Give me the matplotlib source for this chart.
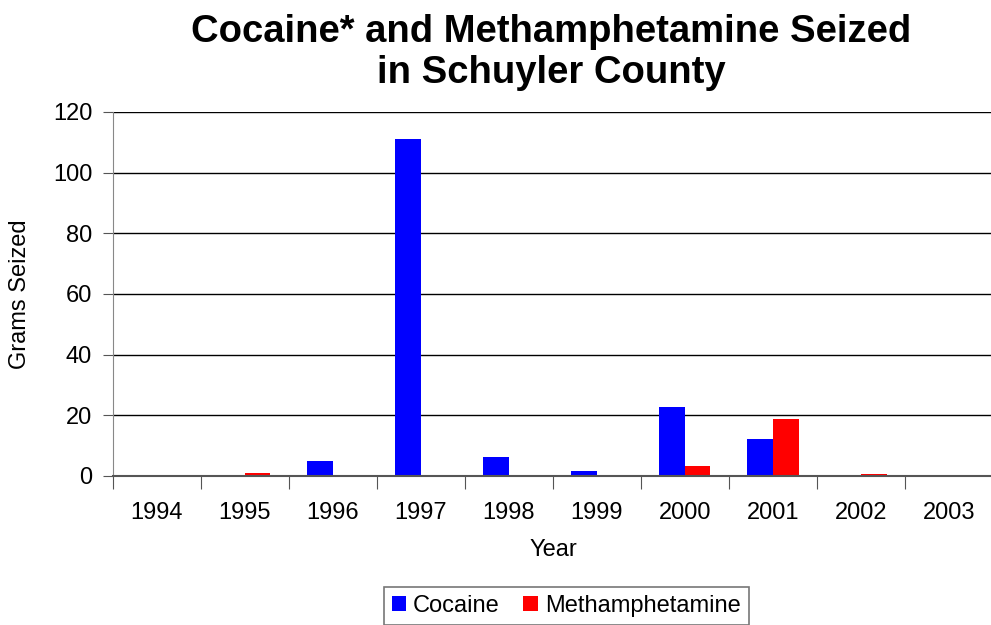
import numpy as np
import matplotlib
matplotlib.use("Agg")
import matplotlib.pyplot as plt

# Dados
anos = ["1994", "1995", "1996", "1997", "1998", "1999", "2000", "2001", "2002", "2003"]
cocaina = [0, 0, 4.9, 111, 6.2, 1.6, 22.7, 12.2, 0, 0]
metanfetamina = [0, 1.0, 0, 0, 0, 0, 3.3, 18.7, 0.8, 0]

plt.rcParams['font.family'] = ['Liberation Sans', 'DejaVu Sans']

fig = plt.figure(figsize=(9.91, 6.25), dpi=100)
ax = fig.add_axes([0.114, 0.2384, 0.888, 0.5824])

x = np.arange(len(anos))
largura = 0.29
ax.bar(x - largura / 2, cocaina, largura, color="#0000ff", label="Cocaine")
ax.bar(x + largura / 2, metanfetamina, largura, color="#ff0000", label="Methamphetamine")

ax.set_xlim(-0.5, len(anos) - 0.5)
ax.set_ylim(0, 120)
ax.set_yticks(range(0, 121, 20))
ax.yaxis.grid(True, color="black", linewidth=1)
ax.set_axisbelow(True)

# Marcas do eixo x entre as categorias
ax.set_xticks(np.arange(-0.5, len(anos), 1))
ax.set_xticklabels([])
ax.set_xticks(x, minor=True)
ax.set_xticklabels(anos, minor=True, fontsize=17)
ax.tick_params(axis="x", which="minor", length=0, pad=19)
ax.tick_params(axis="x", which="major", length=9, direction="out", color="#555555")
ax.tick_params(axis="y", labelsize=17, length=7, pad=8, color="#555555")

for lado in ["top", "right"]:
    ax.spines[lado].set_visible(False)
ax.spines["left"].set_color("#888888")
ax.spines["bottom"].set_color("#555555")
ax.spines["bottom"].set_linewidth(1.5)

ax.set_xlabel("Year", fontsize=17)
ax.xaxis.set_label_coords(0.5, -0.174)
ax.set_ylabel("Grams Seized", fontsize=17)
ax.yaxis.set_label_coords(-0.093, 0.5)

fig.text(0.556, 0.916, "Cocaine* and Methamphetamine Seized\nin Schuyler County",
         ha="center", va="center", fontsize=27.5, fontweight="bold", linespacing=1.2)

leg = ax.legend(loc="center", bbox_to_anchor=(0.515, -0.357), ncol=2, fontsize=17,
                frameon=True, fancybox=False, edgecolor="#555555",
                handlelength=0.6, handleheight=0.6, handletextpad=0.3,
                columnspacing=1.0, borderpad=0.35, borderaxespad=0.2)
leg.get_frame().set_linewidth(1.2)

fig.savefig("out.png", dpi=100)
